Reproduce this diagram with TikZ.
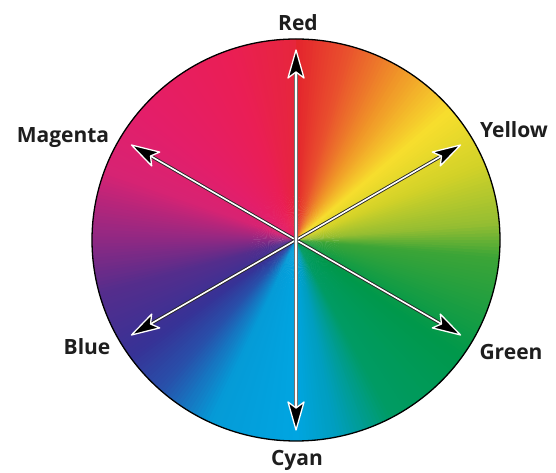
\documentclass[tikz,border=0pt]{standalone}
\usepackage{fontspec}
\setmainfont{Open Sans}
\usetikzlibrary{calc}
\definecolor{s0}{RGB}{0,165,225}
\definecolor{s1}{RGB}{0,158,190}
\definecolor{s2}{RGB}{0,155,100}
\definecolor{s3}{RGB}{0,152,75}
\definecolor{s4}{RGB}{60,165,55}
\definecolor{s5}{RGB}{150,190,50}
\definecolor{s6}{RGB}{210,210,40}
\definecolor{s7}{RGB}{247,222,45}
\definecolor{s8}{RGB}{240,150,40}
\definecolor{s9}{RGB}{233,80,45}
\definecolor{s10}{RGB}{228,35,45}
\definecolor{s11}{RGB}{230,38,60}
\definecolor{s12}{RGB}{234,30,85}
\definecolor{s13}{RGB}{228,30,105}
\definecolor{s14}{RGB}{215,35,115}
\definecolor{s15}{RGB}{150,40,130}
\definecolor{s16}{RGB}{85,45,140}
\definecolor{s17}{RGB}{55,50,150}
\definecolor{s18}{RGB}{40,80,170}
\definecolor{s19}{RGB}{5,155,215}
\definecolor{labelgray}{RGB}{30,30,30}
\tikzset{
  shaft/.style={draw=black!85, line width=0.9pt, double=white, double distance=1.6pt, shorten <=20pt, shorten >=20pt},
  shaftv/.style={shaft, draw=black!55, double distance=2.2pt},
  ahead/.pic={\filldraw[fill=black, draw=white, line width=1.3pt, line join=round] (0,0) -- (-28,8) -- (-22,0) -- (-28,-8) -- cycle;},
  lbl/.style={font=\bfseries\fontsize{21}{24}\selectfont, text=labelgray, anchor=base, inner sep=0pt}
}
\begin{document}
\begin{tikzpicture}[x=1pt,y=1pt]
\useasboundingbox (0,0) rectangle (556,473);
\fill[white] (0,0) rectangle (556,473);
\coordinate (O) at (296,233);
\begin{scope}
  \clip (O) ellipse[x radius=204, y radius=201];
  \foreach \aa/\ab/\ca/\cb in {-90/-78/s0/s1, -78/-62/s1/s2, -62/-35/s2/s3, -35/-5/s3/s4, -5/5/s4/s5, 5/22/s5/s6, 22/40/s6/s7, 40/58/s7/s8, 58/75/s8/s9, 75/90/s9/s10, 90/110/s11/s12, 110/140/s12/s13, 140/160/s13/s14, 160/178/s14/s15, 178/195/s15/s16, 195/215/s16/s17, 215/228/s17/s18, 228/245/s18/s19, 245/270/s19/s0}{
    \pgfmathtruncatemacro\segn{\ab-\aa}
    \pgfmathtruncatemacro\segm{\segn-1}
    \foreach \i in {0,...,\segm}{
      \pgfmathtruncatemacro\pp{100*(\i+0.5)/\segn}
      \pgfmathsetmacro\sa{\aa+\i}
      \pgfmathsetmacro\sb{\aa+\i+1.6}
      \fill[\cb!\pp!\ca] (O) -- ++(\sa:215) arc[start angle=\sa, end angle=\sb, radius=215] -- cycle;
    }
  }
\end{scope}
\draw[line width=1.3pt, black] (O) ellipse[x radius=204, y radius=201];
\coordinate (R) at ($(O)+(90:190)$);
\coordinate (Cy) at ($(O)+(-90:190)$);
\coordinate (Y) at ($(O)+(30:190)$);
\coordinate (B) at ($(O)+(-150:190)$);
\coordinate (G) at ($(O)+(-30:190)$);
\coordinate (M) at ($(O)+(150:190)$);
\draw[shaft] (M) -- (G);
\draw[shaft] (Y) -- (B);
\draw[shaftv] (R) -- (Cy);
\pic[rotate=90] at (R) {ahead};
\pic[rotate=-90] at (Cy) {ahead};
\pic[rotate=30] at (Y) {ahead};
\pic[rotate=-150] at (B) {ahead};
\pic[rotate=-30] at (G) {ahead};
\pic[rotate=150] at (M) {ahead};
\node[lbl] (tR) at (298,442) {Red};
\node[lbl] (tM) at (63,330) {Magenta};
\node[lbl] (tY) at (514,335) {Yellow};
\node[lbl] (tG) at (511,113) {Green};
\node[lbl] (tB) at (87,118) {Blue};
\node[lbl] (tC) at (297,7) {Cyan};
\end{tikzpicture}
\end{document}
